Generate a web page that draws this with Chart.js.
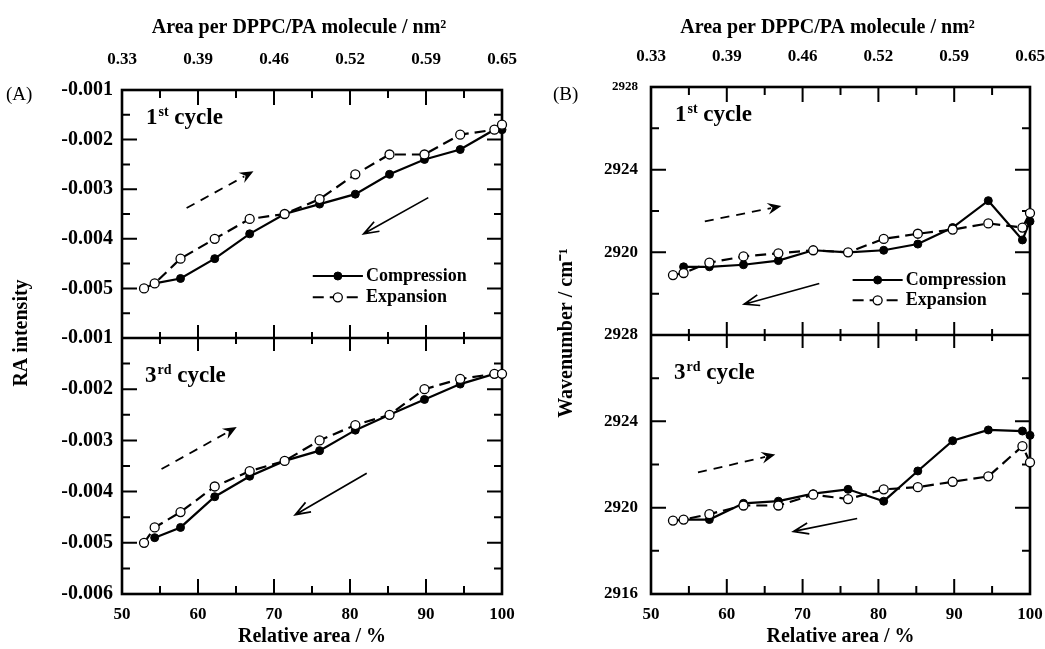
<!DOCTYPE html>
<html>
<head>
<meta charset="utf-8">
<script src="https://cdn.jsdelivr.net/npm/chart.js@4.4.1/dist/chart.umd.min.js"></script>
<style>
  html, body { margin: 0; padding: 0; background: #fff; }
  #wrap { position: relative; width: 1045px; height: 649px; }
  .box { position: absolute; top: 0; height: 649px; }
</style>
</head>
<body>
<div id="wrap">
  <div class="box" style="left:0;width:520px"><canvas id="chartA"></canvas></div>
  <div class="box" style="left:520px;width:525px"><canvas id="chartB"></canvas></div>
</div>
<script>
// relative area (%) of each measurement
var relArea = [52.9, 54.3, 57.7, 62.2, 66.8, 71.4, 76.0, 80.7, 85.2, 89.8, 94.5, 99.0, 100];
var topTickLabels = ['0.33', '0.39', '0.46', '0.52', '0.59', '0.65'];

// (A) RA intensity
var raComp1 = [null, -0.0049, -0.0048, -0.0044, -0.0039, -0.0035, -0.0033, -0.0031, -0.0027, -0.0024, -0.0022, -0.0018, -0.0018];
var raExp1  = [-0.0050, -0.0049, -0.0044, -0.0040, -0.0036, -0.0035, -0.0032, -0.0027, -0.0023, -0.0023, -0.0019, -0.0018, -0.0017];
var raComp3 = [null, -0.0049, -0.0047, -0.0041, -0.0037, -0.0034, -0.0032, -0.0028, -0.0025, -0.0022, -0.0019, -0.0017, -0.0017];
var raExp3  = [-0.0050, -0.0047, -0.0044, -0.0039, -0.0036, -0.0034, -0.0030, -0.0027, -0.0025, -0.0020, -0.0018, -0.0017, -0.0017];

// (B) wavenumber / cm-1
var wnComp1 = [null, 2919.3, 2919.3, 2919.4, 2919.6, 2920.1, 2920.0, 2920.1, 2920.4, 2921.2, 2922.5, 2920.6, 2921.5];
var wnExp1  = [2918.9, 2919.0, 2919.5, 2919.8, 2919.95, 2920.1, 2920.0, 2920.65, 2920.9, 2921.1, 2921.4, 2921.2, 2921.9];
var wnComp3 = [null, 2919.45, 2919.45, 2920.2, 2920.3, 2920.65, 2920.85, 2920.3, 2921.7, 2923.1, 2923.6, 2923.55, 2923.35];
var wnExp3  = [2919.4, 2919.45, 2919.7, 2920.1, 2920.1, 2920.6, 2920.4, 2920.85, 2920.95, 2921.2, 2921.45, 2922.85, 2922.1];

var serif = 'Liberation Serif';

function pts(xs, ys) {
  var out = [];
  for (var i = 0; i < xs.length; i++) {
    if (ys[i] !== null) out.push({ x: xs[i], y: ys[i] });
  }
  return out;
}

function compSet(vals, axis) {
  return {
    label: 'Compression', data: pts(relArea, vals), yAxisID: axis,
    borderColor: '#000', borderWidth: 2.2, pointRadius: 4,
    pointBackgroundColor: '#000', pointBorderColor: '#000', pointBorderWidth: 1,
    order: 1, clip: 12
  };
}
function expSet(vals, axis) {
  return {
    label: 'Expansion', data: pts(relArea, vals), yAxisID: axis,
    borderColor: '#000', borderWidth: 2.2, borderDash: [11, 6], pointRadius: 4.5,
    pointBackgroundColor: '#fff', pointBorderColor: '#000', pointBorderWidth: 1.3,
    order: 0, clip: 12
  };
}

function drawArrow(ctx, x1, y1, x2, y2, dashed) {
  var ang = Math.atan2(y2 - y1, x2 - x1);
  ctx.save();
  if (dashed) {
    var hl = 15;
    ctx.lineWidth = 1.8;
    ctx.setLineDash([9, 7]);
    ctx.beginPath();
    ctx.moveTo(x1, y1);
    ctx.lineTo(x2 - hl * 0.7 * Math.cos(ang), y2 - hl * 0.7 * Math.sin(ang));
    ctx.stroke();
    ctx.setLineDash([]);
    ctx.beginPath();
    ctx.moveTo(x2, y2);
    ctx.lineTo(x2 - hl * Math.cos(ang - 0.4), y2 - hl * Math.sin(ang - 0.4));
    ctx.lineTo(x2 - hl * 0.6 * Math.cos(ang), y2 - hl * 0.6 * Math.sin(ang));
    ctx.lineTo(x2 - hl * Math.cos(ang + 0.4), y2 - hl * Math.sin(ang + 0.4));
    ctx.closePath();
    ctx.fill();
  } else {
    var h = 16;
    ctx.lineWidth = 1.7;
    ctx.beginPath();
    ctx.moveTo(x1, y1);
    ctx.lineTo(x2, y2);
    ctx.moveTo(x2 - h * Math.cos(ang - 0.35), y2 - h * Math.sin(ang - 0.35));
    ctx.lineTo(x2, y2);
    ctx.lineTo(x2 - h * Math.cos(ang + 0.35), y2 - h * Math.sin(ang + 0.35));
    ctx.stroke();
  }
  ctx.restore();
}

function cycleText(ctx, x, y, num, sup) {
  ctx.font = 'bold 23px "' + serif + '"';
  ctx.textBaseline = 'alphabetic';
  ctx.textAlign = 'left';
  ctx.fillText(num, x, y);
  var w = ctx.measureText(num).width;
  ctx.font = 'bold 14px "' + serif + '"';
  ctx.fillText(sup, x + w + 1, y - 8);
  var w2 = ctx.measureText(sup).width;
  ctx.font = 'bold 23px "' + serif + '"';
  ctx.fillText(' cycle', x + w + w2 + 1, y);
}

var paper = {
  id: 'paper',
  beforeDatasetsDraw: function (chart, args, o) {
    var ctx = chart.ctx, a = chart.chartArea, xs = chart.scales.x;
    var yT = chart.scales.yTop, yB = chart.scales.yBot;
    var mid = yT.bottom;
    ctx.save();
    ctx.strokeStyle = '#000';
    ctx.lineWidth = 2;
    ctx.beginPath();
    for (var v = 50; v <= 100; v += 5) {
      var px = xs.getPixelForValue(v);
      var len = v % 10 === 0 ? 15 : 8;
      ctx.moveTo(px, a.top); ctx.lineTo(px, a.top + len);
      ctx.moveTo(px, a.bottom); ctx.lineTo(px, a.bottom - len);
      ctx.moveTo(px, mid - len + 2); ctx.lineTo(px, mid + len - 2);
    }
    [yT, yB].forEach(function (s) {
      var n = Math.round((s.max - s.min) / o.minor);
      for (var i = 1; i < n; i++) {
        var py = s.getPixelForValue(s.min + i * o.minor);
        var l = i % 2 === 0 ? 15 : 8;
        ctx.moveTo(a.left, py); ctx.lineTo(a.left + l, py);
        ctx.moveTo(a.right, py); ctx.lineTo(a.right - l, py);
      }
    });
    ctx.stroke();
    ctx.lineWidth = 2.6;
    ctx.strokeRect(a.left, a.top, a.right - a.left, a.bottom - a.top);
    ctx.beginPath();
    ctx.moveTo(a.left, mid); ctx.lineTo(a.right, mid);
    ctx.stroke();
    ctx.restore();
  },
  afterDatasetsDraw: function (chart, args, o) {
    var ctx = chart.ctx, a = chart.chartArea, xs = chart.scales.x;
    var yT = chart.scales.yTop, yB = chart.scales.yBot;
    ctx.save();
    ctx.fillStyle = '#000';
    ctx.strokeStyle = '#000';

    o.arrows.forEach(function (ar) {
      var ys = chart.scales[ar.axis];
      drawArrow(ctx,
        xs.getPixelForValue(ar.from[0]), ys.getPixelForValue(ar.from[1]),
        xs.getPixelForValue(ar.to[0]), ys.getPixelForValue(ar.to[1]), ar.dashed);
    });

    cycleText(ctx, a.left + 24, yT.top + 34, '1', 'st');
    cycleText(ctx, a.left + 23, yB.top + 44, '3', 'rd');

    // legend inside upper plot
    var lg = o.legend;
    var ds = chart.data.datasets;
    [ds[0], ds[1]].forEach(function (d, k) {
      var py = yT.getPixelForValue(lg.y[k]);
      var x0 = xs.getPixelForValue(lg.x0), x1 = xs.getPixelForValue(lg.x1);
      ctx.save();
      ctx.lineWidth = 2;
      ctx.setLineDash(d.borderDash || []);
      ctx.beginPath();
      ctx.moveTo(x0, py); ctx.lineTo(x1, py);
      ctx.stroke();
      ctx.setLineDash([]);
      ctx.beginPath();
      ctx.arc((x0 + x1) / 2, py, d.pointRadius, 0, Math.PI * 2);
      ctx.fillStyle = d.pointBackgroundColor;
      ctx.fill();
      ctx.lineWidth = d.pointBorderWidth;
      ctx.stroke();
      ctx.restore();
      ctx.font = 'bold 18px "' + serif + '"';
      ctx.textAlign = 'left';
      ctx.textBaseline = 'middle';
      ctx.fillText(d.label, xs.getPixelForValue(lg.tx), py);
    });

    // axis titles and panel letter
    ctx.font = 'bold 20px "' + serif + '"';
    ctx.textAlign = 'center';
    ctx.textBaseline = 'middle';
    ctx.fillText('Area per DPPC/PA molecule / nm\u00b2', (a.left + a.right) / 2 - 13, 28);
    ctx.save();
    ctx.translate(o.yTitleX, 333);
    ctx.rotate(-Math.PI / 2);
    ctx.fillText(o.yTitle, 0, 0);
    ctx.restore();
    ctx.font = '19px "' + serif + '"';
    ctx.textAlign = 'left';
    ctx.fillText(o.letter, o.letterX, 95);
    ctx.restore();
  }
};

// keep the edge tick labels from pushing the plot area inwards
function noSidePad(s) {
  s.paddingLeft = 0;
  s.paddingRight = 0;
}

function buildPanel(id, p) {
  function yScale(top) {
    return {
      type: 'linear', position: 'left', stack: 'rows',
      stackWeight: top ? p.hTop : p.hBot, weight: top ? 2 : 1,
      min: p.min, max: p.max,
      ticks: {
        stepSize: p.step, padding: p.tickPad, color: '#000', autoSkip: false,
        font: function (c) {
          var small = top && p.smallTop && c.tick && c.tick.value === p.max;
          return { family: serif, weight: 'bold', size: small ? 13 : p.ySize };
        },
        callback: function (v) {
          if (top && Math.abs(v - p.min) < p.step / 10) return '';
          return p.fmt(v);
        }
      },
      grid: { display: false, drawTicks: false },
      border: { display: false },
      afterFit: function (s) { s.width = p.yWidth; }
    };
  }
  return new Chart(document.getElementById(id), {
    type: 'line',
    data: { datasets: p.datasets },
    options: {
      responsive: true, maintainAspectRatio: false, animation: false,
      layout: { padding: { left: 0, top: 0, bottom: 0, right: p.rightPad } },
      scales: {
        x: {
          type: 'linear', position: 'bottom', min: 50, max: 100,
          ticks: { stepSize: 10, padding: 10, color: '#000', maxRotation: 0, autoSkip: false,
                   font: { family: serif, weight: 'bold', size: 17 } },
          grid: { display: false, drawTicks: false },
          border: { display: false },
          title: { display: true, text: 'Relative area / %', color: '#000',
                   font: { family: serif, weight: 'bold', size: 20 }, padding: { top: 0, bottom: 0 } },
          afterFit: function (s) { s.height = 55; noSidePad(s); }
        },
        x2: {
          type: 'linear', position: 'top', min: 50, max: 100,
          ticks: { stepSize: 10, padding: 20, color: '#000', maxRotation: 0, autoSkip: false,
                   font: { family: serif, weight: 'bold', size: 17 },
                   callback: function (v, i) { return topTickLabels[i]; } },
          grid: { display: false, drawTicks: false },
          border: { display: false },
          afterFit: function (s) { s.height = p.topH; noSidePad(s); }
        },
        yTop: yScale(true),
        yBot: yScale(false)
      },
      plugins: {
        legend: { display: false },
        tooltip: { enabled: false },
        paper: p.paper
      }
    },
    plugins: [paper]
  });
}

buildPanel('chartA', {
  min: -0.006, max: -0.001, step: 0.001, ySize: 20, tickPad: 9,
  yWidth: 122, rightPad: 18, topH: 90, hTop: 248, hBot: 256,
  fmt: function (v) { return v.toFixed(3); },
  datasets: [compSet(raComp1, 'yTop'), expSet(raExp1, 'yTop'), compSet(raComp3, 'yBot'), expSet(raExp3, 'yBot')],
  paper: {
    minor: 0.0005, yTitle: 'RA intensity', yTitleX: 22, letter: '(A)', letterX: 6,
    legend: { x0: 75.1, x1: 81.7, tx: 82.1, y: [-0.00475, -0.00518] },
    arrows: [
      { axis: 'yTop', from: [58.5, -0.00338], to: [67.3, -0.00264], dashed: true },
      { axis: 'yTop', from: [90.3, -0.00317], to: [81.8, -0.0039], dashed: false },
      { axis: 'yBot', from: [55.2, -0.00356], to: [65.1, -0.00274], dashed: true },
      { axis: 'yBot', from: [82.2, -0.00364], to: [72.8, -0.00445], dashed: false }
    ]
  }
});

buildPanel('chartB', {
  min: 2916, max: 2928, step: 4, ySize: 17, tickPad: 13, smallTop: true,
  yWidth: 131, rightPad: 15, topH: 87, hTop: 248, hBot: 259,
  fmt: function (v) { return String(Math.round(v)); },
  datasets: [compSet(wnComp1, 'yTop'), expSet(wnExp1, 'yTop'), compSet(wnComp3, 'yBot'), expSet(wnExp3, 'yBot')],
  paper: {
    minor: 2, yTitle: 'Wavenumber / cm\u207b\u00b9', yTitleX: 47, letter: '(B)', letterX: 33,
    legend: { x0: 76.6, x1: 83.2, tx: 83.6, y: [2918.66, 2917.68] },
    arrows: [
      { axis: 'yTop', from: [57.1, 2921.5], to: [67.2, 2922.24], dashed: true },
      { axis: 'yTop', from: [72.2, 2918.49], to: [62.3, 2917.49], dashed: false },
      { axis: 'yBot', from: [56.2, 2921.63], to: [66.4, 2922.46], dashed: true },
      { axis: 'yBot', from: [77.2, 2919.5], to: [68.8, 2918.9], dashed: false }
    ]
  }
});
</script>
</body>
</html>
